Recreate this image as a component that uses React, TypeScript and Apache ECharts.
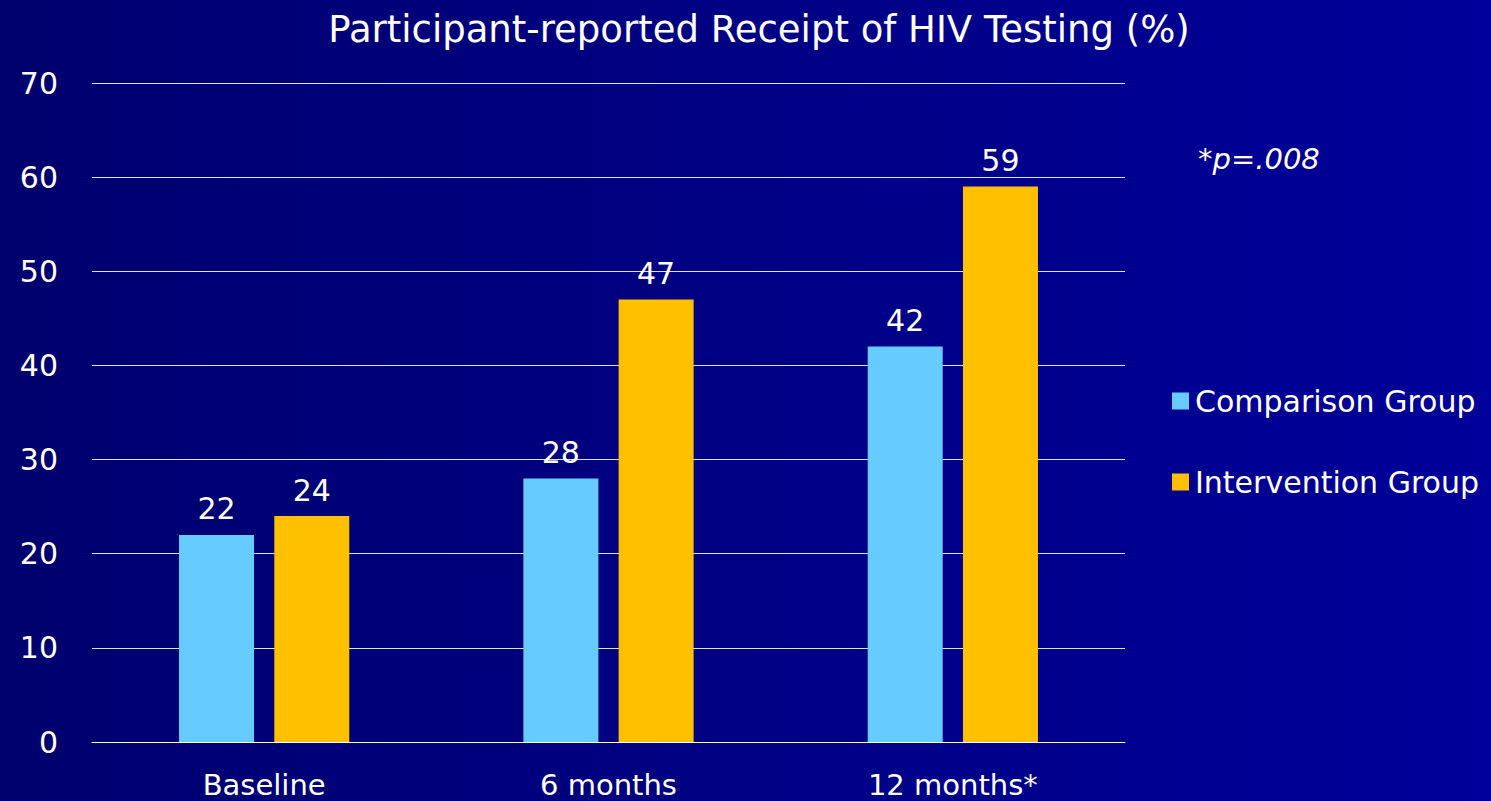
import React, { useEffect, useRef } from "react";
import * as echarts from "echarts";

const categories = ["Baseline", "6 months", "12 months*"];
const comparison = [22, 28, 42];
const intervention = [24, 47, 59];
const seriesNames = ["Comparison Group", "Intervention Group"];
const titleText = "Participant-reported Receipt of HIV Testing (%)";
const noteText = "*p=.008";

export default function App() {
  const ref = useRef<HTMLDivElement>(null);
  useEffect(() => {
    document.body.style.margin = "0";
    const chart = echarts.init(ref.current!, null, { renderer: "svg" });
    const font = "DejaVu Sans";
    chart.setOption({
      animation: false,
      backgroundColor: new echarts.graphic.LinearGradient(0, 0, 1, 0, [
        { offset: 0, color: "#00006e" },
        { offset: 1, color: "#00009a" },
      ]),
      textStyle: { fontFamily: font, color: "#fff" },
      title: {
        text: titleText,
        left: 754,
        textAlign: "center",
        top: 6,
        textStyle: { color: "#fff", fontSize: 37, fontWeight: "normal", fontFamily: font },
      },
      legend: {
        orient: "vertical",
        left: 1167,
        top: 381,
        itemWidth: 17,
        itemHeight: 17,
        itemGap: 51,
        icon: "rect",
        textStyle: { color: "#fff", fontSize: 30, fontFamily: font, padding: [0, 0, 0, 1] },
        data: seriesNames,
      },
      graphic: [
        {
          type: "text",
          left: 1198,
          top: 144,
          style: {
            text: noteText,
            fill: "#fff",
            font: `italic 29px "${font}"`,
          },
        },
      ],
      grid: { left: 92, right: 366, top: 83, bottom: 59 },
      xAxis: {
        type: "category",
        data: categories,
        axisLine: { lineStyle: { color: "#fff", width: 1 } },
        axisTick: { show: false },
        axisLabel: { color: "#fff", fontSize: 29, margin: 28, fontFamily: font },
      },
      yAxis: {
        type: "value",
        min: 0,
        max: 70,
        interval: 10,
        axisLine: { show: false },
        axisTick: { show: false },
        axisLabel: { color: "#fff", fontSize: 30, margin: 34, fontFamily: font },
        splitLine: { lineStyle: { color: "#e0e0f0", width: 1 } },
      },
      series: [
        {
          name: seriesNames[0],
          type: "bar",
          data: comparison,
          barWidth: 75,
          barGap: "27%",
          itemStyle: { color: "#66ccff" },
          label: { show: true, position: "top", color: "#fff", fontSize: 30, distance: 11, fontFamily: font },
        },
        {
          name: seriesNames[1],
          type: "bar",
          data: intervention,
          barWidth: 75,
          itemStyle: { color: "#ffc000" },
          label: { show: true, position: "top", color: "#fff", fontSize: 30, distance: 11, fontFamily: font },
        },
      ],
    });
    return () => chart.dispose();
  }, []);
  return <div ref={ref} style={{ width: 1491, height: 801 }} />;
}
